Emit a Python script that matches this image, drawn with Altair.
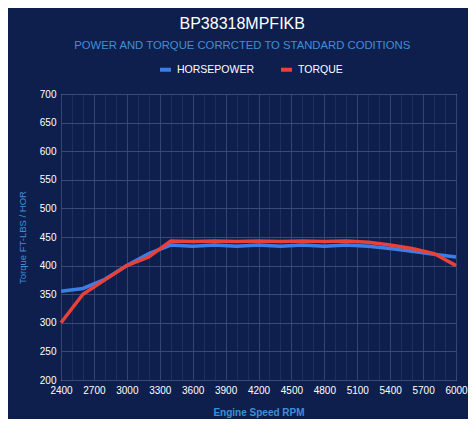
import altair as alt
import pandas as pd

# Engine speed (RPM) and readings taken off the dyno sheet
rpm = [2400, 2600, 2800, 3000, 3200, 3400, 3600, 3800, 4000, 4200,
       4400, 4600, 4800, 5000, 5200, 5400, 5600, 5800, 6000]
horsepower = [355, 360, 376, 400, 421, 436, 434, 436, 434, 436,
              434, 436, 434, 436, 434, 430, 425, 420, 415]
torque = [300, 350, 375, 400, 415, 443, 442, 443, 442, 443,
          442, 443, 442, 443, 441, 436, 430, 421, 400]

series_names = ['HORSEPOWER', 'TORQUE']
series_colors = ['#3b7ee8', '#e8413a']

df = pd.concat([
    pd.DataFrame({'rpm': rpm, 'value': horsepower, 'series': series_names[0]}),
    pd.DataFrame({'rpm': rpm, 'value': torque, 'series': series_names[1]}),
])

BG = '#0f1f4d'
FONT = 'Liberation Sans'

x_ticks = list(range(2400, 6001, 100))

chart = alt.Chart(df).mark_line(strokeWidth=3.5).encode(
    x=alt.X('rpm:Q',
            title='Engine Speed RPM',
            scale=alt.Scale(domain=[2400, 6000], nice=False, zero=False),
            axis=alt.Axis(values=x_ticks, format='d', labelOverlap=False, labelFlush=False,
                          labelExpr="datum.value % 300 === 0 ? datum.label : ''",
                          gridColor={'condition': {'test': 'datum.value % 300 === 0',
                                                   'value': '#34456f'},
                                     'value': '#1f2f5c'},
                          labelColor='white', labelFontSize=10, labelPadding=5,
                          titleColor='#3d8fd8', titleFontSize=10, titleFontWeight='bold',
                          titlePadding=12, ticks=False, domain=False)),
    y=alt.Y('value:Q',
            title='Torque FT-LBS / HOR',
            scale=alt.Scale(domain=[200, 700], nice=False, zero=False),
            axis=alt.Axis(values=list(range(200, 701, 50)), labelFlush=False,
                          gridColor='#3a4a75',
                          labelColor='white', labelFontSize=10, labelPadding=5,
                          titleColor='#3d8fd8', titleFontSize=9.5, titleFontWeight='normal',
                          titlePadding=12, ticks=False, domain=False)),
    color=alt.Color('series:N',
                    scale=alt.Scale(domain=series_names, range=series_colors),
                    legend=alt.Legend(orient='none', legendX=97, legendY=-32,
                                      direction='horizontal', title=None,
                                      symbolType='stroke',
                                      symbolStrokeWidth=4, symbolSize=120,
                                      labelColor='white', labelFontSize=10.5,
                                      columnPadding=18)),
).properties(
    width=395,
    height=286,
    background=BG,
    padding={'left': 9, 'top': 7, 'right': 0, 'bottom': 2},
    title=alt.TitleParams(
        text='BP38318MPFIKB',
        subtitle='POWER AND TORQUE CORRCTED TO STANDARD CODITIONS',
        color='white', fontSize=16, fontWeight='normal', font=FONT,
        subtitleColor='#3d8fd8', subtitleFontSize=11.3, subtitleFont=FONT,
        subtitlePadding=8, anchor='middle', frame='bounds', offset=11
    )
).configure_view(
    stroke=None
).configure(
    font=FONT
)

chart.save("out.html", embed_options={"renderer": "svg", "actions": False})
